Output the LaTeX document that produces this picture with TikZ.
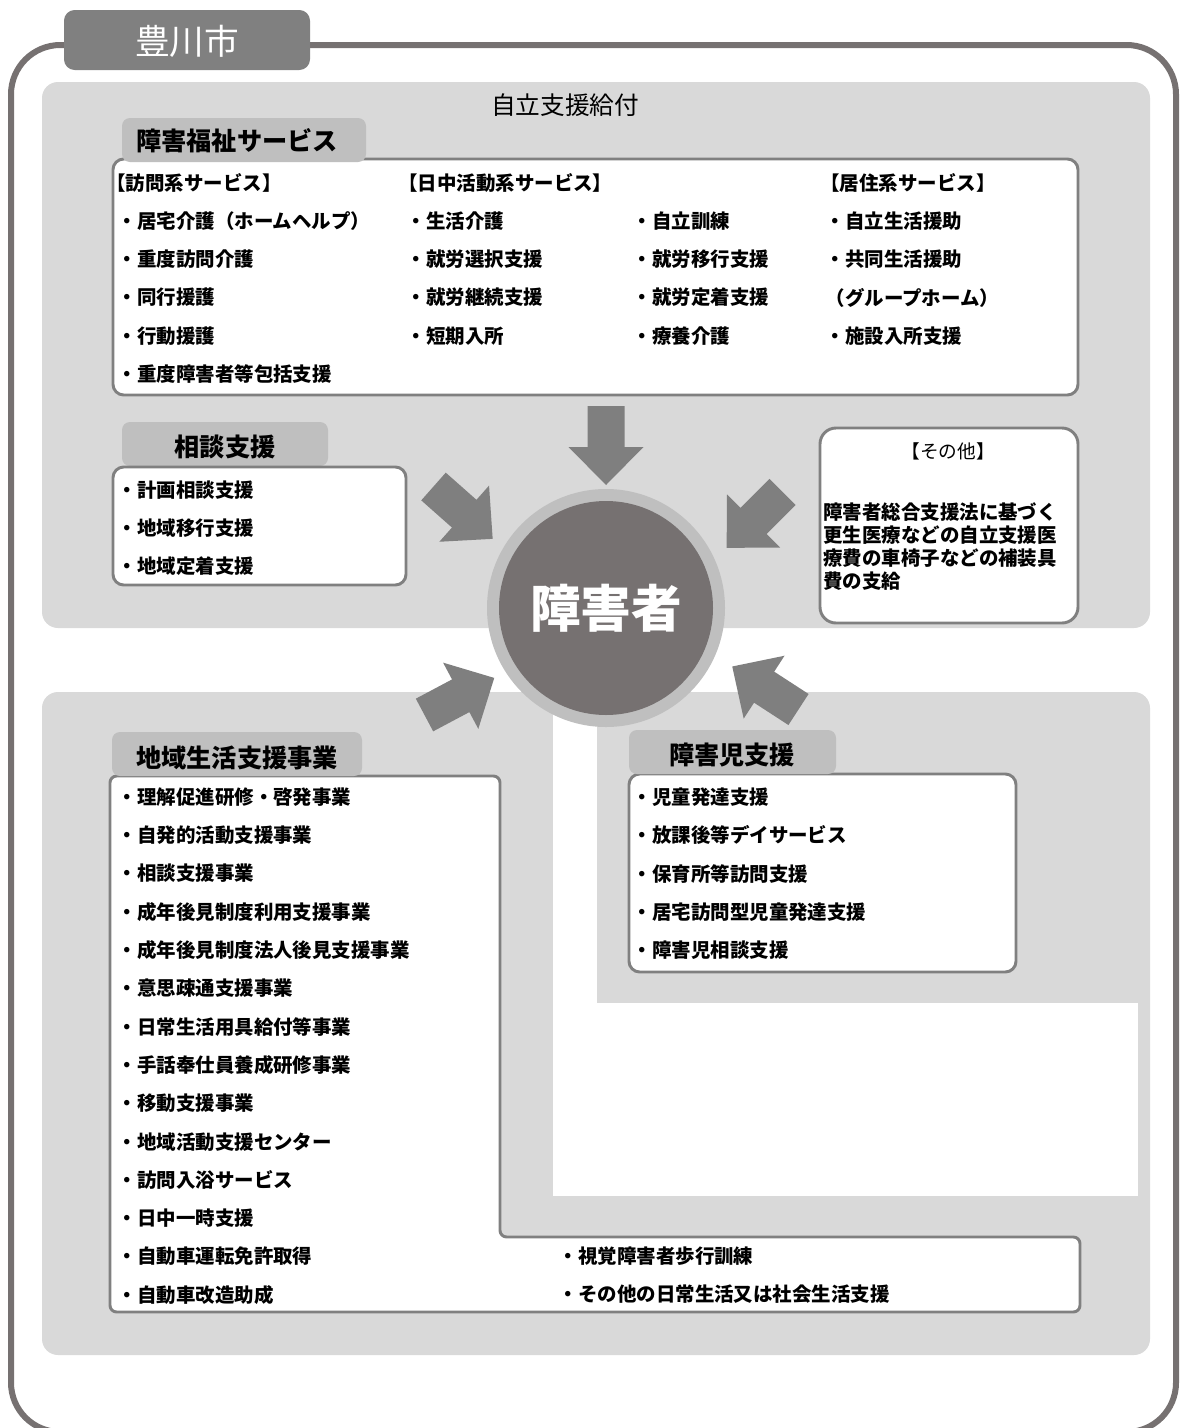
\documentclass[tikz,border=0pt]{standalone}
\usepackage{fontspec}
\newfontfamily\jp{Noto Sans CJK JP}
\definecolor{framec}{HTML}{767171}
\definecolor{panelc}{HTML}{D9D9D9}
\definecolor{tabc}{HTML}{BFBFBF}
\definecolor{citytab}{HTML}{808080}
\definecolor{arrowc}{HTML}{7F7F7F}
\definecolor{circc}{HTML}{767171}
\definecolor{boxline}{HTML}{808080}
\begin{document}
\begin{tikzpicture}[x=0.75pt,y=-0.75pt,
  item/.style={anchor=west,inner sep=0pt,font=\jp\bfseries\fontsize{14.6}{16}\selectfont},
  headtxt/.style={inner sep=0pt,font=\jp\bfseries\fontsize{18.9}{20}\selectfont},
  wbox/.style={draw=boxline,line width=2.2pt,fill=white,rounded corners=8pt},
  tabbox/.style={fill=tabc,rounded corners=6pt},
  blockarrow/.pic={\fill[arrowc] (0,-18.5) -- (41,-18.5) -- (41,-37.5) -- (79,0) -- (41,37.5) -- (41,18.5) -- (0,18.5) -- cycle;}
]
\useasboundingbox (0,0) rectangle (1184,1428);
% outer frame
\draw[framec,line width=4.5pt,rounded corners=37pt] (11,45) rectangle (1176,1432);
\fill[citytab,rounded corners=8pt] (64,10) rectangle (310,70);
\node[inner sep=0pt,text=white,font=\jp\fontsize{26}{28}\selectfont] (city) at (187,41) {豊川市};

% upper panel
\fill[panelc,rounded corners=12pt] (42,82) rectangle (1150,628);
\node[inner sep=0pt,font=\jp\fontsize{18.5}{20}\selectfont] (jiritsu) at (565,105) {自立支援給付};

% welfare services box
\draw[wbox] (113,159) rectangle (1078,395);
\fill[tabbox] (122,118) rectangle (366,162);
\node[headtxt,anchor=west] (fukushi) at (136,141) {障害福祉サービス};
\node[item] (c1h) at (106,183) {【訪問系サービス】};
\node[item] (c2h) at (398,183) {【日中活動系サービス】};
\node[item] (c4h) at (820,183) {【居住系サービス】};
\foreach \t [count=\i from 0] in {居宅介護（ホームヘルプ）,重度訪問介護,同行援護,行動援護,重度障害者等包括支援}
  \node[item] (ca\i) at (117.5,{221+38.3*\i}) {・\t};
\foreach \t [count=\i from 0] in {生活介護,就労選択支援,就労継続支援,短期入所}
  \node[item] (cb\i) at (406.5,{221+38.3*\i}) {・\t};
\foreach \t [count=\i from 0] in {自立訓練,就労移行支援,就労定着支援,療養介護}
  \node[item] (cc\i) at (632.5,{221+38.3*\i}) {・\t};
\node[item] (cd0) at (825.5,221) {・自立生活援助};
\node[item] (cd1) at (825.5,259.3) {・共同生活援助};
\node[item] (cd2) at (825.5,297.6) {（グループホーム）};
\node[item] (cd3) at (825.5,335.9) {・施設入所支援};

% consultation
\fill[tabbox] (122,422) rectangle (328,466);
\node[headtxt] (soudan) at (225,447) {相談支援};
\draw[wbox] (113,467) rectangle (406,585);
\foreach \t [count=\i from 0] in {計画相談支援,地域移行支援,地域定着支援}
  \node[item] (s\i) at (117.5,{490+38.2*\i}) {・\t};

% other
\draw[wbox,rounded corners=12pt] (820,428) rectangle (1078,623);
\node[inner sep=0pt,font=\jp\fontsize{14}{16}\selectfont] (sonota) at (948,451) {【その他】};
\node[anchor=north west,inner sep=0pt,align=left,font=\jp\bfseries\fontsize{14.6}{17.25}\selectfont] (sonotatxt) at (823,502)
  {障害者総合支援法に基づく\\更生医療などの自立支援医\\療費の車椅子などの補装具\\費の支給};

% lower panel
\fill[panelc,rounded corners=12pt] (42,692) rectangle (1150,1355);
\fill[white] (553,680) rectangle (597,1196);
\fill[white] (553,1003) rectangle (1138,1196);

% community life support
\draw[wbox,rounded corners=5pt] (110,776) -- (500,776) -- (500,1237) -- (1080,1237) -- (1080,1312) -- (110,1312) -- cycle;
\fill[tabbox] (112,732) rectangle (362,776);
\node[headtxt,anchor=west] (chiiki) at (136,758) {地域生活支援事業};
\foreach \t [count=\i from 0] in {理解促進研修・啓発事業,自発的活動支援事業,相談支援事業,成年後見制度利用支援事業,成年後見制度法人後見支援事業,意思疎通支援事業,日常生活用具給付等事業,手話奉仕員養成研修事業,移動支援事業,地域活動支援センター,訪問入浴サービス,日中一時支援,自動車運転免許取得,自動車改造助成}
  \node[item] (l\i) at (117.5,{797+38.3*\i}) {・\t};
\node[item] (r0) at (558.5,1256) {・視覚障害者歩行訓練};
\node[item] (r1) at (558.5,1294.6) {・その他の日常生活又は社会生活支援};

% children support
\draw[wbox] (629,774) rectangle (1016,972);
\fill[tabbox] (629,730) rectangle (836,774);
\node[headtxt] (jidou) at (732,755) {障害児支援};
\foreach \t [count=\i from 0] in {児童発達支援,放課後等デイサービス,保育所等訪問支援,居宅訪問型児童発達支援,障害児相談支援}
  \node[item] (k\i) at (632.5,{797+38.3*\i}) {・\t};

% center circle
\fill[tabc] (606,608) circle[radius=89.25pt];
\node[circle,fill=circc,minimum size=160.5pt,inner sep=0pt,text=white,font=\jp\bfseries\fontsize{38}{40}\selectfont] (person) at (606,608) {障害者};

% arrows
\pic[rotate=-90] (arT) at (606,406) {blockarrow};
\pic[rotate=-41.5] (arUL) at (433.5,486.5) {blockarrow};
\pic[rotate=-135] (arUR) at (782.5,492) {blockarrow};
\pic[rotate=28] (arLL) at (424.5,715) {blockarrow};
\pic[rotate=147] (arLR) at (798.5,709.5) {blockarrow};
\end{tikzpicture}
\end{document}
